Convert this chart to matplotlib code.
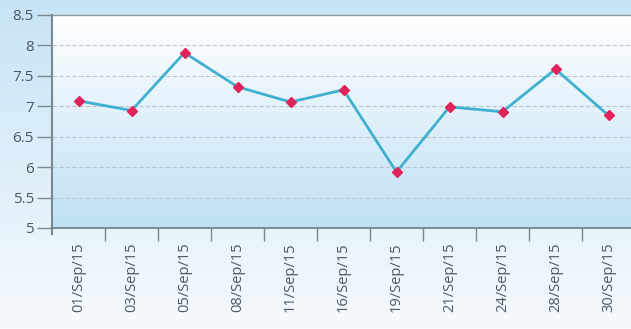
import numpy as np
import matplotlib
matplotlib.use("Agg")
import matplotlib.pyplot as plt
from matplotlib.colors import LinearSegmentedColormap

dates = ["01/Sep/15", "03/Sep/15", "05/Sep/15", "08/Sep/15", "11/Sep/15", "16/Sep/15",
         "19/Sep/15", "21/Sep/15", "24/Sep/15", "28/Sep/15", "30/Sep/15"]
values = [7.09, 6.93, 7.88, 7.32, 7.07, 7.27, 5.92, 6.99, 6.91, 7.61, 6.85]
yticks = [5, 5.5, 6, 6.5, 7, 7.5, 8, 8.5]
ytick_labels = ["5", "5.5", "6", "6.5", "7", "7.5", "8", "8.5"]

fig = plt.figure(figsize=(6.31, 3.29), dpi=100)

# figure background gradient
bg = fig.add_axes([0, 0, 1, 1], zorder=-10)
cmap_bg = LinearSegmentedColormap.from_list("bg", ["#f6fafd", "#c6e4f6"])
bg.imshow(np.linspace(0, 1, 256).reshape(-1, 1), aspect="auto", cmap=cmap_bg,
          origin="lower", extent=[0, 1, 0, 1])
bg.axis("off")

W, H = 631, 329
left, right, top, bottom = 52, 635, 15, 228
ax = fig.add_axes([left / W, 1 - bottom / H, (right - left) / W, (bottom - top) / H])
x = np.arange(len(dates))
ax.set_xlim(-0.5, len(dates) - 0.5)
ax.set_ylim(5, 8.5)

cmap_pa = LinearSegmentedColormap.from_list("pa", ["#bfe1f5", "#ffffff"])
ax.imshow(np.linspace(0, 1, 256).reshape(-1, 1), aspect="auto", cmap=cmap_pa,
          origin="lower", extent=[-0.5, len(dates) - 0.5, 5, 8.5], zorder=0)

for yv in yticks[1:-1]:
    ax.axhline(yv, color="#bcc6cd", lw=0.8, ls=(0, (4, 2)), zorder=1)

ax.plot(x, values, color="#3fb0cf", lw=2, zorder=3)
ax.plot(x, values, ls="none", marker="D", ms=5.5, color="#e0245a", zorder=4)

ax.set_yticks(yticks)
ax.set_yticklabels(ytick_labels, fontsize=11, color="#4a5864", family="Open Sans")
ax.set_xticks(x)
ax.set_xticklabels(dates, rotation=90, fontsize=10.5, color="#4a5864", family="Open Sans")
ax.set_xticks(np.arange(len(dates) - 1) + 0.5, minor=True)
ax.tick_params(axis="x", which="major", length=0, pad=10)
ax.tick_params(axis="x", which="minor", length=9, color="#7a8890", width=1)
ax.tick_params(axis="y", length=11, color="#7a8890", width=1, pad=2)

ax.spines["right"].set_visible(False)
ax.spines["top"].set_color("#8a98a2")
ax.spines["top"].set_linewidth(1.0)
ax.spines["left"].set_color("#7a8890")
ax.spines["left"].set_linewidth(1.5)
ax.spines["bottom"].set_color("#6a7c88")
ax.spines["bottom"].set_linewidth(1.2)
ax.spines["left"].set_bounds(4.9, 8.5)

fig.savefig("out.png", dpi=100)
